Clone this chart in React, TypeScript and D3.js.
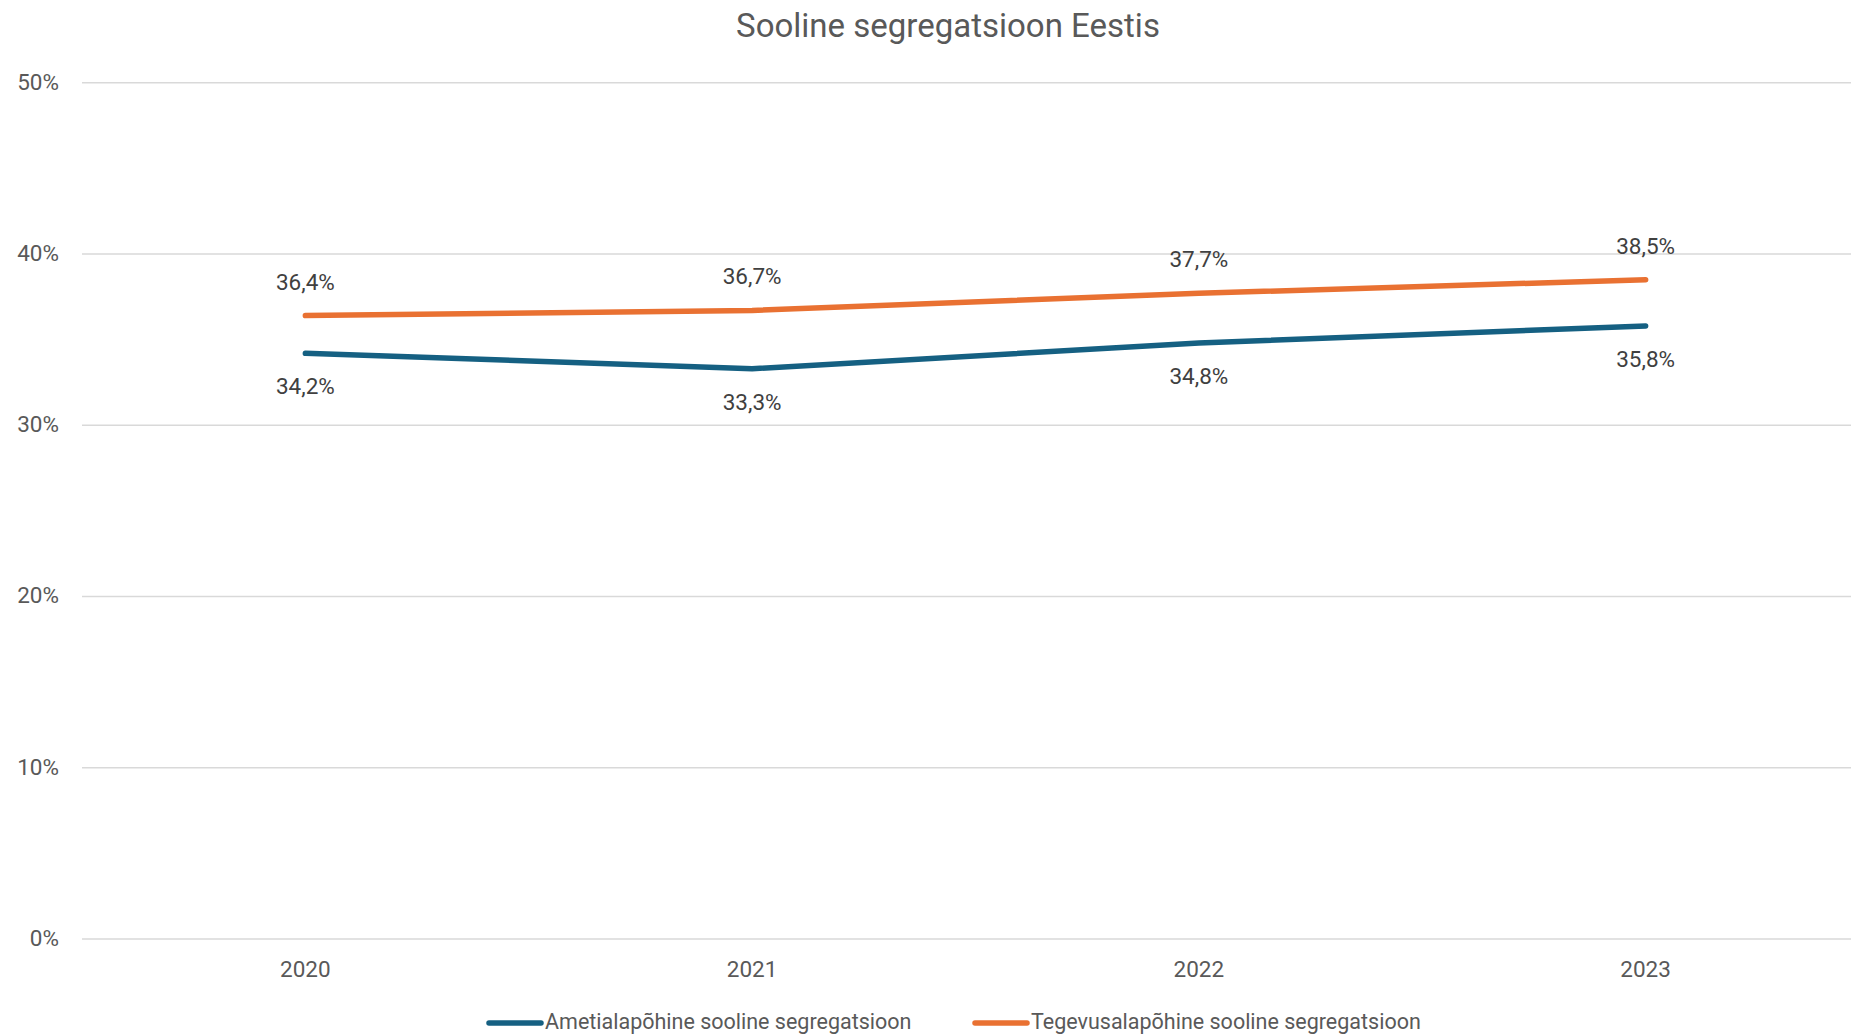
import React from 'react';
import * as d3 from 'd3';

const years = ['2020', '2021', '2022', '2023'];
const ametiala = [34.2, 33.3, 34.8, 35.8];
const tegevusala = [36.4, 36.7, 37.7, 38.5];
const yTicks = [0, 10, 20, 30, 40, 50];
const seriesNames = ['Ametialapõhine sooline segregatsioon', 'Tegevusalapõhine sooline segregatsioon'];
const colors = ['#156082', '#E97132'];

const W = 1851;
const H = 1035;

const fmt = (v: number) => v.toFixed(1).replace('.', ',') + '%';

const App: React.FC = () => {
  const x = d3.scaleBand<string>().domain(years).range([82, 82 + 1787]);
  const y = d3.scaleLinear().domain([0, 50]).range([939, 82.7]);
  const cx = (d: string) => (x(d) ?? 0) + x.bandwidth() / 2;

  const line = d3.line<number>()
    .x((_, i) => cx(years[i]))
    .y(d => y(d));

  const series = [ametiala, tegevusala];
  const font = 'Roboto, "Liberation Sans", sans-serif';

  return (
    <svg width={W} height={H} style={{ position: 'absolute', left: 0, top: 0, background: '#fff' }}>
      <text x={948} y={28} textAnchor="middle" dominantBaseline="middle" fontFamily={font} fontSize={33} fill="#595959">
        Sooline segregatsioon Eestis
      </text>

      {/* gridlines + y labels */}
      {yTicks.map(t => (
        <g key={t}>
          <line x1={82} x2={W} y1={y(t)} y2={y(t)} stroke="#d9d9d9" strokeWidth={1.5} />
          <text x={59} y={y(t) + 1} textAnchor="end" dominantBaseline="middle" fontFamily={font} fontSize={22.5} fill="#595959">
            {t}%
          </text>
        </g>
      ))}

      {/* x labels */}
      {years.map(yr => (
        <text key={yr} x={cx(yr)} y={971} textAnchor="middle" dominantBaseline="middle" fontFamily={font} fontSize={22.5} fill="#595959">
          {yr}
        </text>
      ))}

      {/* lines */}
      {series.map((s, si) => (
        <path key={si} d={line(s) ?? ''} fill="none" stroke={colors[si]} strokeWidth={5.5} strokeLinecap="round" strokeLinejoin="round" />
      ))}

      {/* data labels */}
      {ametiala.map((v, i) => (
        <text key={'a' + i} x={cx(years[i])} y={y(v) + 35} textAnchor="middle" dominantBaseline="middle" fontFamily={font} fontSize={22.5} fill="#404040">
          {fmt(v)}
        </text>
      ))}
      {tegevusala.map((v, i) => (
        <text key={'t' + i} x={cx(years[i])} y={y(v) - 32} textAnchor="middle" dominantBaseline="middle" fontFamily={font} fontSize={22.5} fill="#404040">
          {fmt(v)}
        </text>
      ))}

      {/* legend */}
      {seriesNames.map((name, i) => {
        const lx = i === 0 ? 489 : 975;
        return (
          <g key={name}>
            <line x1={lx} x2={lx + 52} y1={1023} y2={1023} stroke={colors[i]} strokeWidth={5.5} strokeLinecap="round" />
            <text x={lx + 56} y={1023} dominantBaseline="middle" fontFamily='"Liberation Sans Narrow", "Roboto", sans-serif' fontSize={21.5} fill="#595959">
              {name}
            </text>
          </g>
        );
      })}
    </svg>
  );
};

export default App;
